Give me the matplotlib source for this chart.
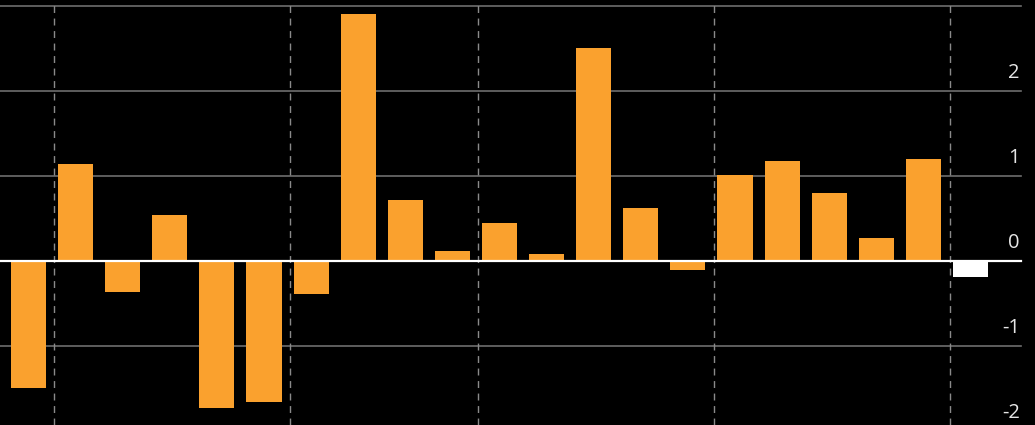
import matplotlib
matplotlib.use("Agg")
import matplotlib.pyplot as plt
import matplotlib.transforms as mtransforms
import numpy as np

# values
values = [-1.50, 1.14, -0.37, 0.54, -1.73, -1.66, -0.39, 2.91, 0.72, 0.12,
          0.45, 0.08, 2.51, 0.62, -0.11, 1.01, 1.18, 0.80, 0.27, 1.20, -0.19]
bar_colors = ['#FAA12E'] * 20 + ['#FFFFFF']
period_breaks = [0.55, 5.55, 9.55, 14.55, 19.56]
y_ticks = [2, 1, 0, -1, -2]

fig = plt.figure(figsize=(10.35, 4.25), dpi=100, facecolor='black')
ax = fig.add_axes([0, 0, 1, 1])
ax.set_facecolor('black')

x = np.arange(len(values))
ax.bar(x, values, width=0.745, color=bar_colors, zorder=3)

grid_end = 1021 / 1035
for yv in [3, 2, 1, -1, -2]:
    ax.axhline(yv, xmax=grid_end, color='#6e6e6e', lw=1.2, zorder=1)
ax.axhline(0, xmax=grid_end, color='white', lw=1.6, zorder=4)

for xb in period_breaks:
    ax.axvline(xb, color='#8a8a8a', lw=1.0, ls=(0, (5, 4)), zorder=2)

trans = mtransforms.blended_transform_factory(ax.transAxes, ax.transData)
for yv in y_ticks:
    ax.text(grid_end - 0.001, yv + 0.21, str(yv), transform=trans,
            ha='right', va='center', color='#e6e6e6', fontsize=14.5,
            family=['Open Sans', 'DejaVu Sans'], zorder=5)

ax.set_xlim(-0.605, 21.37)
ax.set_ylim(-1.93, 3.07)
ax.axis('off')

fig.savefig('out.png', dpi=100, facecolor='black')
